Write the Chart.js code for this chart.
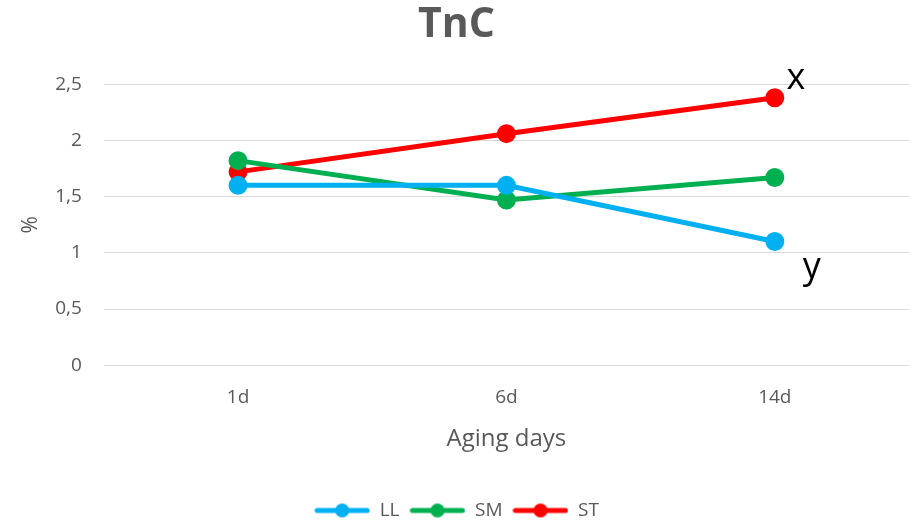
<!DOCTYPE html>
<html>
<head>
<meta charset="utf-8">
<script src="https://cdn.jsdelivr.net/npm/chart.js@4.4.1/dist/chart.umd.min.js"></script>
<style>
  html, body { margin: 0; padding: 0; background: #ffffff; }
  #wrap { width: 910px; height: 528px; position: relative; }
</style>
</head>
<body>
<div id="wrap"><canvas id="c" width="910" height="528"></canvas></div>
<script>
// Aging time points
const categories = ['1d', '6d', '14d'];

// TnC content (%) per muscle
const seriesLL = [1.60, 1.60, 1.10];
const seriesSM = [1.82, 1.47, 1.67];
const seriesST = [1.72, 2.06, 2.38];

const seriesNames = ['LL', 'SM', 'ST'];
const seriesColors = ['#00B0F0', '#00B050', '#FF0000'];

// Letters placed beside the last point of a series
const markLetters = [
  { series: 2, index: 2, text: 'x', dx: 21, dy: -19 },
  { series: 0, index: 2, text: 'y', dx: 37, dy: 26 }
];

const yTicks = { min: 0, max: 2.5, step: 0.5 };

const gray = '#595959';
const fontFamily = '"Open Sans", "Noto Sans", sans-serif';

// Legend swatch: a short line with a dot in the middle
function legendSwatch(color) {
  const cv = document.createElement('canvas');
  cv.width = 56; cv.height = 16;
  const g = cv.getContext('2d');
  g.strokeStyle = color;
  g.lineWidth = 5;
  g.lineCap = 'round';
  g.beginPath();
  g.moveTo(3, 8); g.lineTo(53, 8);
  g.stroke();
  g.fillStyle = color;
  g.beginPath();
  g.arc(28, 8, 7, 0, Math.PI * 2);
  g.fill();
  return cv;
}
const swatches = seriesColors.map(legendSwatch);

const letterPlugin = {
  id: 'letters',
  afterDatasetsDraw(chart) {
    const ctx = chart.ctx;
    ctx.save();
    ctx.fillStyle = '#000000';
    ctx.font = '36px ' + fontFamily;
    ctx.textAlign = 'center';
    ctx.textBaseline = 'middle';
    markLetters.forEach(m => {
      const pt = chart.getDatasetMeta(m.series).data[m.index];
      ctx.fillText(m.text, pt.x + m.dx, pt.y + m.dy);
    });
    ctx.restore();
  }
};

const seriesData = [seriesLL, seriesSM, seriesST];

new Chart(document.getElementById('c'), {
  type: 'line',
  data: {
    labels: categories,
    datasets: seriesData.map((d, i) => ({
      label: seriesNames[i],
      data: d,
      borderColor: seriesColors[i],
      backgroundColor: seriesColors[i],
      pointBackgroundColor: seriesColors[i],
      pointBorderColor: seriesColors[i],
      borderWidth: 5,
      pointRadius: 7,
      pointHoverRadius: 7,
      tension: 0,
      fill: false
    }))
  },
  options: {
    responsive: false,
    animation: false,
    layout: { autoPadding: false, padding: { left: 4, right: 1, top: 0, bottom: -2 } },
    plugins: {
      title: {
        display: true,
        text: 'TnC',
        color: gray,
        font: { family: fontFamily, size: 41, weight: 'bold' },
        padding: { top: 1, bottom: 34 }
      },
      legend: {
        position: 'bottom',
        labels: {
          usePointStyle: true,
          pointStyleWidth: 56,
          color: gray,
          font: { family: fontFamily, size: 19 },
          padding: 10,
          generateLabels(chart) {
            const items = Chart.defaults.plugins.legend.labels.generateLabels(chart);
            items.forEach(it => { it.pointStyle = swatches[it.datasetIndex]; it.lineWidth = 0; });
            return items;
          }
        }
      },
      tooltip: { enabled: false }
    },
    scales: {
      x: {
        offset: true,
        grid: { display: false, drawTicks: false },
        border: { display: false },
        ticks: { color: gray, font: { family: fontFamily, size: 19 }, padding: 21 },
        title: {
          display: true,
          text: 'Aging days',
          color: gray,
          font: { family: fontFamily, size: 24, lineHeight: 1 },
          padding: { top: 0, bottom: 40 }
        },
        afterFit(axis) {
          // the category offset already leaves room for the end labels
          axis.paddingLeft = 0;
          axis.paddingRight = 0;
          axis.height -= 3;
        }
      },
      y: {
        min: yTicks.min,
        max: yTicks.max,
        grid: { color: '#d9d9d9', lineWidth: 1, drawTicks: false },
        border: { display: false },
        ticks: {
          stepSize: yTicks.step,
          color: gray,
          font: { family: fontFamily, size: 19 },
          padding: 22,
          callback: v => String(v).replace('.', ',')
        },
        title: {
          display: true,
          text: '%',
          color: gray,
          font: { family: fontFamily, size: 21 },
          padding: { top: 14, bottom: 0 }
        },
        afterFit(axis) {
          // labels only need one padding gap, towards the plot
          axis.width -= 10;
        }
      }
    }
  },
  plugins: [letterPlugin]
});
</script>
</body>
</html>
